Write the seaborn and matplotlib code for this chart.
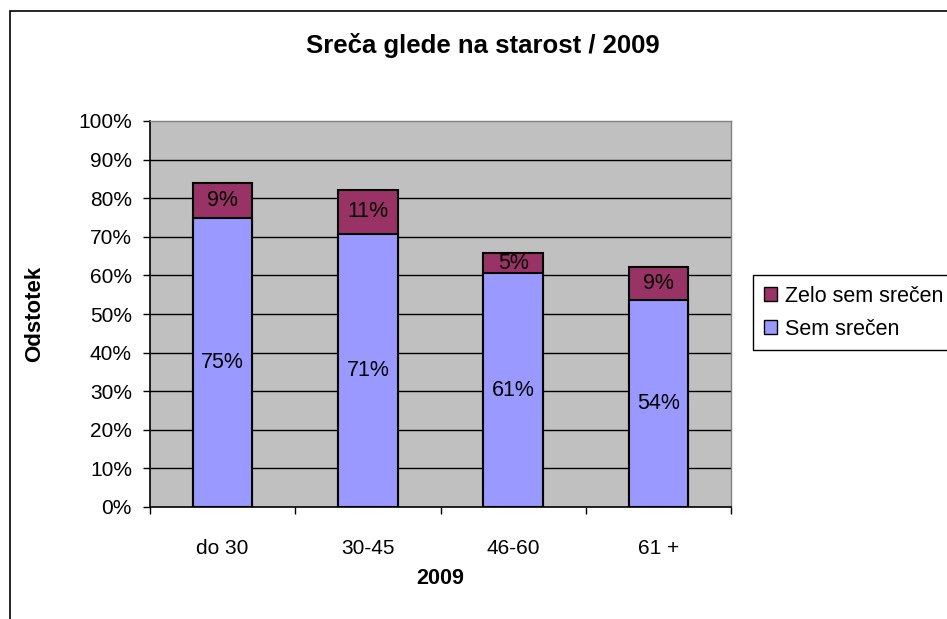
import matplotlib
matplotlib.use('Agg')
import matplotlib.pyplot as plt
import seaborn as sns
import pandas as pd
from matplotlib.patches import Patch, Rectangle

# podatki
skupine = ['do 30', '30-45', '46-60', '61 +']
sem_srecen = [74.9, 70.8, 60.6, 53.6]
zelo_srecen = [9.1, 11.4, 5.2, 8.6]
y_ticks = list(range(0, 101, 10))

df = pd.DataFrame({'skupina': skupine, 'sem': sem_srecen, 'zelo': zelo_srecen})
df['skupaj'] = df['sem'] + df['zelo']

sns.set_theme(style='white', rc={'text.color': 'black', 'xtick.color': 'black',
                                 'ytick.color': 'black', 'axes.labelcolor': 'black'})
plt.rcParams['font.family'] = ['Liberation Sans', 'DejaVu Sans']

c_sem = '#9999FF'
c_zelo = '#993366'

fig = plt.figure(figsize=(9.47, 6.19), dpi=100)
ax = fig.add_axes([150/947, 1-507/619, (731-150)/947, (507-121)/619])
ax.set_facecolor('#C0C0C0')

# mreža
for v in y_ticks[1:-1]:
    ax.axhline(v, color='black', lw=1, zorder=0)

# skupna višina (temno), nato spodnji del (svetlo)
sns.barplot(data=df, x='skupina', y='skupaj', color=c_zelo, saturation=1,
            width=0.41, edgecolor='black', linewidth=1.5, ax=ax, zorder=2)
sns.barplot(data=df, x='skupina', y='sem', color=c_sem, saturation=1,
            width=0.41, edgecolor='black', linewidth=1.5, ax=ax, zorder=3)

# oznake
for i, row in df.iterrows():
    ax.text(i, row['sem'] / 2, f"{round(row['sem'])}%", ha='center', va='center',
            fontsize=15.5, color='black', zorder=5)
    ax.text(i, row['sem'] + row['zelo'] / 2, f"{round(row['zelo'])}%", ha='center',
            va='center', fontsize=15.5, color='black', zorder=5)

ax.set_xlim(-0.5, 3.5)
ax.set_ylim(0, 100)
ax.set_yticks(y_ticks)
ax.set_yticklabels([f'{v}%' for v in y_ticks], fontsize=15)
ax.set_xticks([-0.5, 0.5, 1.5, 2.5, 3.5])
ax.set_xticklabels([])
ax.set_xticks(range(len(skupine)), minor=True)
ax.set_xticklabels(skupine, minor=True, fontsize=15)
ax.tick_params(axis='y', which='major', direction='out', length=5, width=1,
               color='black', left=True, pad=8)
ax.tick_params(axis='x', which='major', direction='out', length=5, width=1,
               color='black', bottom=True)
ax.tick_params(axis='x', which='minor', length=0, pad=23)
ax.set_xlabel('')
ax.set_ylabel('')

for s in ['left', 'bottom']:
    ax.spines[s].set_color('black')
    ax.spines[s].set_linewidth(1.2)
for s in ['top', 'right']:
    ax.spines[s].set_color('#808080')
    ax.spines[s].set_linewidth(1)

fig.text(483/947, 1-45/619, 'Sreča glede na starost / 2009', ha='center',
         va='center', fontsize=18.5, fontweight='bold')
fig.text(440/947, 1-578/619, '2009', ha='center', va='center', fontsize=15.5,
         fontweight='bold')
fig.text(35/947, 1-314/619, 'Odstotek', ha='center', va='center', fontsize=16,
         fontweight='bold', rotation=90)

# okvir grafikona
fig.patches.append(Rectangle((10/947, -0.2), 1.2, 1 - 11/619 + 0.2,
                             transform=fig.transFigure, fill=False,
                             edgecolor='black', lw=1.2))

handles = [Patch(facecolor=c_zelo, edgecolor='black', label='Zelo sem srečen'),
           Patch(facecolor=c_sem, edgecolor='black', label='Sem srečen')]
leg = fig.legend(handles=handles, loc='upper left',
                 bbox_to_anchor=(753/947, 1-275/619), fontsize=15.5,
                 frameon=True, fancybox=False, framealpha=1, edgecolor='black',
                 handlelength=0.6, handleheight=0.6, handletextpad=0.4,
                 borderpad=0.5, labelspacing=0.55, borderaxespad=0)
leg.get_frame().set_linewidth(1)

fig.savefig('out.png', dpi=100)
